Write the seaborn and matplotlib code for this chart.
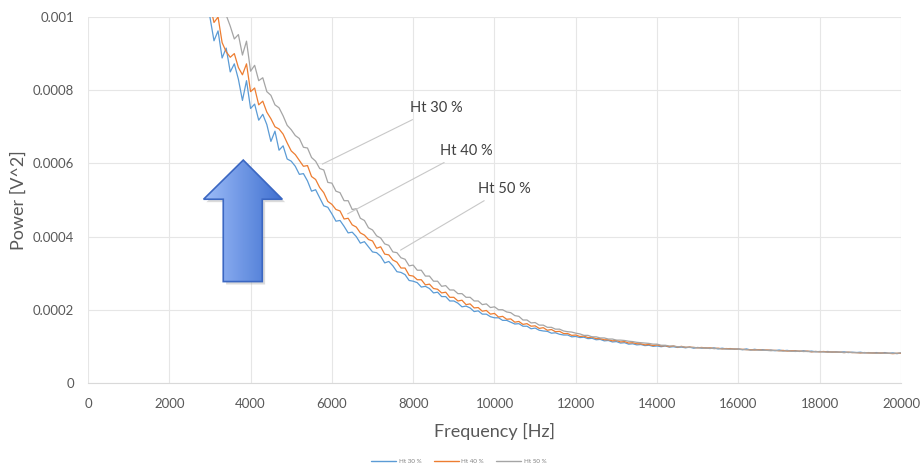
import numpy as np
import pandas as pd
import matplotlib
matplotlib.use("Agg")
import matplotlib.pyplot as plt
from matplotlib.patches import Polygon
import seaborn as sns

# power values in micro V^2, sampled every 100 Hz from 2800 Hz to 20000 Hz
ht30 = [1075, 1040, 1000, 935, 962, 888, 915, 850, 872, 830,
        772, 826, 750, 762, 718, 734, 706, 660, 688, 636,
        648, 612, 606, 592, 570, 572, 552, 524, 528, 506,
        484, 480, 462, 442, 444, 428, 410, 412, 400, 382,
        386, 372, 358, 356, 346, 328, 332, 320, 304, 302,
        296, 280, 278, 274, 262, 264, 258, 246, 248, 236,
        236, 224, 224, 218, 208, 210, 205, 195, 197, 188,
        188, 181, 178, 178, 171, 171, 166, 161, 162, 155,
        155, 148, 150, 144, 142, 141, 136, 137, 133, 131,
        131, 126, 127, 124, 125, 121, 122, 118, 119, 115,
        116, 112, 113, 109, 110, 106, 107, 104, 105, 102,
        103, 100, 101, 99, 101, 98, 99, 97, 98, 96,
        98, 95, 97, 95, 96, 94, 96, 93, 95, 93,
        94, 92, 93, 91, 93, 90, 92, 90, 91, 89,
        90, 88, 90, 88, 89, 87, 88, 86, 88, 86,
        87, 85, 86, 85, 86, 84, 85, 84, 85, 83,
        84, 83, 84, 82, 83, 82, 83, 81, 83, 81,
        82, 80, 82]

ht40 = [1110, 1070, 1035, 985, 1000, 930, 905, 890, 900, 862,
        842, 872, 796, 806, 760, 770, 740, 722, 700, 694,
        680, 656, 634, 624, 608, 592, 594, 564, 556, 534,
        520, 496, 488, 474, 470, 448, 450, 432, 426, 410,
        404, 392, 388, 368, 372, 352, 350, 336, 330, 314,
        314, 294, 292, 282, 282, 268, 270, 258, 256, 246,
        248, 234, 234, 224, 226, 214, 216, 205, 206, 196,
        198, 188, 190, 180, 182, 174, 175, 166, 168, 160,
        162, 155, 156, 149, 151, 144, 146, 140, 141, 135,
        135, 130, 131, 127, 128, 124, 125, 121, 121, 118,
        118, 115, 116, 112, 113, 109, 110, 107, 107, 104,
        105, 102, 104, 101, 102, 99, 101, 98, 100, 97,
        98, 97, 96, 97, 95, 96, 94, 95, 93, 94,
        93, 93, 92, 92, 91, 91, 90, 91, 89, 90,
        89, 89, 88, 89, 87, 88, 87, 87, 86, 87,
        85, 86, 85, 86, 84, 85, 84, 84, 83, 84,
        83, 83, 82, 83, 82, 82, 81, 82, 81, 81,
        80, 81, 81]

ht50 = [1180, 1150, 1110, 1075, 1060, 1020, 1005, 975, 940, 952,
        896, 934, 852, 868, 826, 834, 796, 786, 760, 752,
        730, 704, 692, 676, 668, 644, 642, 616, 606, 586,
        582, 548, 546, 524, 520, 498, 498, 474, 476, 450,
        444, 424, 418, 402, 396, 380, 376, 358, 356, 342,
        338, 320, 322, 308, 308, 292, 292, 278, 278, 264,
        266, 254, 254, 244, 244, 234, 234, 224, 224, 214,
        216, 206, 208, 200, 200, 194, 192, 184, 182, 172,
        172, 164, 165, 158, 158, 152, 152, 147, 147, 142,
        140, 139, 136, 134, 130, 130, 126, 126, 123, 123,
        120, 120, 117, 117, 116, 114, 113, 111, 110, 109,
        108, 106, 106, 103, 103, 101, 101, 99, 99, 98,
        97, 97, 96, 96, 95, 95, 94, 94, 93, 93,
        92, 93, 92, 91, 91, 90, 90, 90, 89, 89,
        88, 89, 88, 87, 88, 87, 86, 87, 86, 86,
        85, 86, 85, 85, 84, 85, 84, 84, 83, 84,
        83, 83, 82, 83, 82, 82, 81, 82, 81, 81,
        81, 81, 82]

freq = np.arange(2800, 20001, 100)
series_names = ["Ht 30 %", "Ht 40 %", "Ht 50 %"]
colors = ["#5B9BD5", "#ED7D31", "#A5A5A5"]

x_ticks = [0, 2000, 4000, 6000, 8000, 10000, 12000, 14000, 16000, 18000, 20000]
y_ticks = [0, 0.0002, 0.0004, 0.0006, 0.0008, 0.001]
y_tick_labels = ["0", "0.0002", "0.0004", "0.0006", "0.0008", "0.001"]

# build long table
frames = []
for name, vals in zip(series_names, [ht30, ht40, ht50]):
    frames.append(pd.DataFrame({"freq": freq, "power": np.array(vals) * 1e-6, "series": name}))
data = pd.concat(frames, ignore_index=True)

sns.set_theme(style="whitegrid")
plt.rcParams['font.family'] = ['Lato', 'DejaVu Sans']

fig = plt.figure(figsize=(9.23, 4.67), dpi=100)
ax = fig.add_axes([0.0953, 0.180, 0.8809, 0.7836])

sns.lineplot(data=data, x="freq", y="power", hue="series", palette=colors,
             estimator=None, sort=False, linewidth=0.9, ax=ax, legend=False)

ax.set_xlim(0, 20000)
ax.set_ylim(0, 0.001)
ax.set_xticks(x_ticks)
ax.set_xticklabels([str(t) for t in x_ticks])
ax.set_yticks(y_ticks)
ax.set_yticklabels(y_tick_labels)
ax.tick_params(axis="both", length=0, labelsize=9.5, labelcolor="#595959")
ax.tick_params(axis="x", pad=11)
ax.tick_params(axis="y", pad=10)
ax.grid(True, color="#E6E6E6", linewidth=0.8)
for side in ["top", "right", "left"]:
    ax.spines[side].set_visible(False)
ax.spines["bottom"].set_color("#D9D9D9")
ax.spines["bottom"].set_linewidth(0.8)
ax.set_facecolor("white")

ax.set_xlabel("Frequency [Hz]", fontsize=13, color="#595959", labelpad=9)
ax.set_ylabel("Power [V^2]", fontsize=13, color="#595959", labelpad=4)

# callout labels with leader lines
callouts = [("Ht 30 %", (5766, 0.000598), (7911, 0.000751)),
            ("Ht 40 %", (6386, 0.000462), (8649, 0.000634)),
            ("Ht 50 %", (7690, 0.000363), (9584, 0.000530))]
for text, xy, xytext in callouts:
    ax.annotate(text, xy=xy, xytext=xytext, fontsize=10.5, color="#404040",
                ha="left", va="center",
                arrowprops=dict(arrowstyle="-", color="#C8C8C8", lw=0.8,
                                shrinkA=2, shrinkB=0))

# big up arrow
arrow_pts = [(3820, 0.000609), (4780, 0.000502), (4288, 0.000502), (4288, 0.000277),
             (3328, 0.000277), (3328, 0.000502), (2844, 0.000502)]
shadow_pts = [(x + 70, y - 0.000008) for x, y in arrow_pts]
ax.add_patch(Polygon(shadow_pts, closed=True, facecolor="#9A9A9A", edgecolor="none",
                     alpha=0.35, zorder=4))
arrow = Polygon(arrow_pts, closed=True, facecolor="none", edgecolor="#3B67C2",
                linewidth=1.2, zorder=6)
ax.add_patch(arrow)
grad = np.linspace(0, 1, 256).reshape(1, -1)
cmap = matplotlib.colors.LinearSegmentedColormap.from_list("arr", ["#9DBDF8", "#3F6FD0"])
img = ax.imshow(grad, extent=[2844, 4780, 0.000277, 0.000609], aspect="auto",
                cmap=cmap, zorder=5, interpolation="bicubic")
img.set_clip_path(arrow)
ax.set_xlim(0, 20000)
ax.set_ylim(0, 0.001)

# legend
handles = [plt.Line2D([0], [0], color=c, lw=1.0) for c in colors]
fig.legend(handles, series_names, loc="lower center", ncol=3, frameon=False,
           fontsize=4.5, handlelength=4, columnspacing=2.0, handletextpad=0.4,
           labelcolor="#808080", bbox_to_anchor=(0.497, -0.005))

fig.savefig("out.png", dpi=100, facecolor="white")
